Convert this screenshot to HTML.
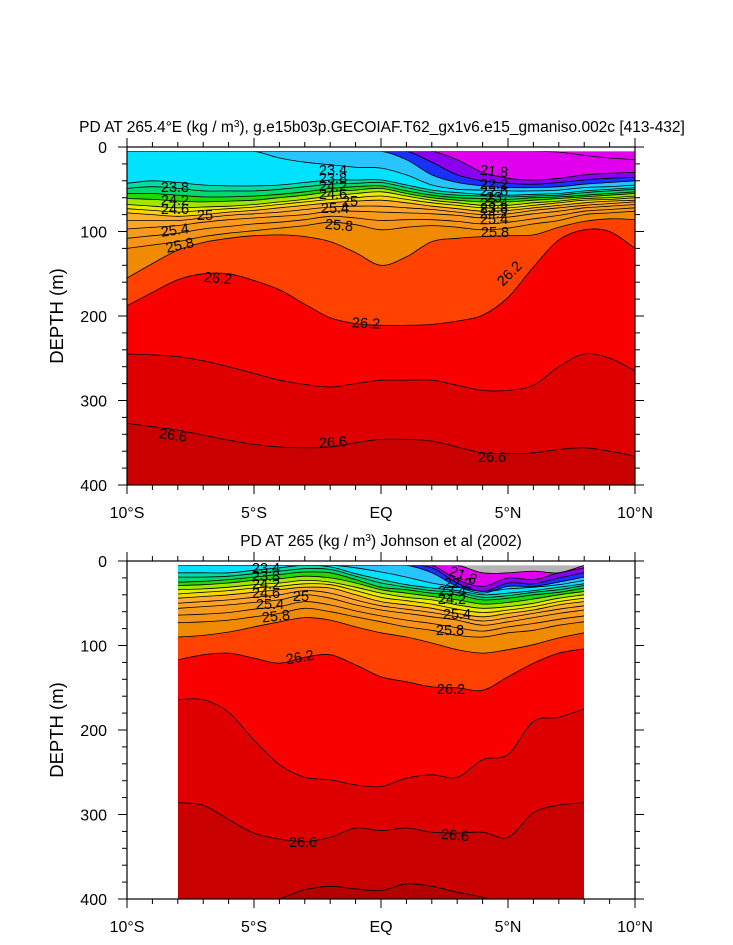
<!DOCTYPE html>
<html><head><meta charset="utf-8"><style>
body{margin:0;background:#fff}
svg{display:block;font-family:"Liberation Sans",Arial,sans-serif}
</style></head><body>
<svg id="chart" width="733" height="945" viewBox="0 0 733 945">
<defs>
<clipPath id="clipTop"><rect x="127" y="147" width="508" height="338"/></clipPath>
<clipPath id="clipBot"><rect x="178" y="561" width="406" height="338"/></clipPath>
</defs>
<g id="panelTop"></g>
<g id="panelBot"></g>
</svg>
<script>
// ---- data (depth in metres of each isopycnal, by longitude) ----
const topLons = [-10,-9,-8,-7,-6,-5,-4,-3,-2,-1,0,1,2,3,4,5,6,7,8,9,10];
const topLevels = [21.8,22.2,22.6,23.0,23.4,23.8,24.0,24.2,24.4,24.6,24.8,25.0,25.2,25.4,25.6,25.8,26.0,26.2,26.4,26.6];
const topD218 = [5,5,5,5,5,5,5,5,5,5,5,5,5,5,5,5,5,6,10,13,15];
const topD222 = [5,5,5,5,5,5,5,5,5,5,5,5,5,15,30,37,39,37,33,31,30];
const topD226 = [5,5,5,5,5,5,5,5,5,5,5,5,18,33,40,43,44,42,39,37,36];
const topD230 = [5,5,5,5,5,5,5,5,5,5,5,15,33,42,46,48,48,47,44,42,40];
const topD234 = [5,5,5,5,5,5,13,18,21,24,25,33,45,50,51,52,52,51,48,47,45];
const topD238 = [43,40,42,45,46,46,45,42,39,39,39,45,51,54,56,57,56,55,52,50,48];
const topD240 = [49,47,49,52,52,52,50,47,44,43,42,48,54,57,58,59,58,57,54,52,50];
const topD242 = [55,55,57,59,59,58,56,53,49,47,46,52,57,60,61,62,60,59,57,55,53];
const topD244 = [61,62,64,65,64,63,60,57,53,51,49,55,60,63,65,65,63,61,59,57,55];
const topD246 = [68,70,72,71,70,68,65,62,58,55,53,58,63,66,69,69,66,64,61,60,58];
const topD248 = [73,75,77,75,73,71,68,65,62,60,58,62,66,69,72,72,69,66,63,62,60];
const topD250 = [78,80,82,80,77,75,72,69,66,64,63,66,70,73,76,75,72,69,66,64,63];
const topD252 = [87,87,87,84,81,79,77,74,71,70,70,72,74,77,80,79,75,72,69,67,65];
const topD254 = [97,95,93,89,86,84,82,80,76,76,77,78,79,81,84,83,79,76,72,70,68];
const topD256 = [108,105,102,97,94,91,89,86,82,84,87,86,86,88,91,89,85,81,76,74,72];
const topD258 = [120,116,112,106,102,99,96,93,89,92,98,95,93,95,98,96,91,87,80,78,76];
const topD260 = [155,138,122,113,108,105,104,106,112,125,140,130,112,108,106,105,104,95,88,85,86];
const topD262 = [188,172,157,150,150,158,169,186,202,209,211,211,210,206,199,178,142,110,98,100,120];
const topD264 = [245,246,248,253,260,268,276,281,284,280,276,276,276,282,288,288,282,260,245,250,265];
const topD266 = [327,331,335,341,347,352,355,356,355,350,346,346,348,355,362,363,362,358,356,360,366];

const botLons = [-8,-7,-6,-5,-4,-3,-2,-1,0,1,2,3,4,5,6,7,8];
const botLevels = [21.8,22.2,22.6,23.0,23.4,23.8,24.0,24.2,24.4,24.6,24.8,25.0,25.2,25.4,25.6,25.8,26.0,26.2,26.4,26.6,26.8];
const botD218 = [5,5,5,5,5,5,5,5,5,5,5,5,14,14,12,14,5];
const botD222 = [5,5,5,5,5,5,5,5,5,5,5,22,30,20,22,14,8];
const botD226 = [5,5,5,5,5,5,5,5,5,5,8,26,36,26,27,20,14];
const botD230 = [5,5,5,5,5,5,5,5,5,5,14,30,38,30,30,25,19];
const botD234 = [5,5,5,5,5,5,5,8,13,19,26,31,36,33,31,28,23];
const botD238 = [14,14,14,11,8,5,7,15,22,28,32,35,40,38,35,31,27];
const botD240 = [19,19,18,15,12,9,10,18,26,31,35,37,43,41,37,34,29];
const botD242 = [25,24,22,19,16,13,14,22,31,34,38,40,46,44,40,37,32];
const botD244 = [29,28,26,23,21,18,20,26,34,38,42,46,51,49,45,40,36];
const botD246 = [34,33,31,28,26,23,25,31,38,43,46,52,56,54,50,44,40];
const botD248 = [39,37,35,32,30,27,28,35,43,47,51,57,61,58,54,48,44];
const botD250 = [44,42,40,37,34,31,32,40,48,52,56,62,66,62,58,52,48];
const botD252 = [50,48,46,43,40,35,38,46,53,57,61,66,71,67,62,57,53];
const botD254 = [56,54,52,49,46,40,44,52,58,62,66,70,76,72,67,62,58];
const botD256 = [64,63,61,57,54,48,52,59,65,70,74,79,83,78,74,69,65];
const botD258 = [73,72,70,66,62,56,60,66,72,78,82,88,90,85,82,76,72];
const botD260 = [90,88,84,78,72,67,70,78,85,90,97,105,109,105,99,91,85];
const botD262 = [117,111,109,115,121,114,111,123,137,143,149,150,153,137,121,109,104];
const botD264 = [164,164,179,212,241,256,259,265,267,257,253,256,235,229,190,185,175];
const botD266 = [286,289,306,322,329,332,327,316,319,316,321,322,321,327,298,289,286];
const botD268 = [420,420,420,410,400,389,385,388,390,382,385,392,398,410,420,420,420];

const xTickLabels = ["10°S","5°S","EQ","5°N","10°N"];
const xTickVals = [-10,-5,0,5,10];
const yTickVals = [0,100,200,300,400];

const fillColors = {
  "21.8":"#e000ee","22.2":"#8a00ee","22.6":"#1a30ff","23.0":"#28c4ff","23.4":"#00e2ff",
  "23.8":"#00dca8","24.0":"#00d870","24.2":"#22d800","24.4":"#a0e600","24.6":"#e6ee00","24.8":"#f8d800",
  "25.0":"#ffac30","25.2":"#ffa42a","25.4":"#f89a1e","25.6":"#f59418",
  "25.8":"#f08a00","26.0":"#ff4200","26.2":"#fa0000","26.4":"#de0000","26.6":"#c80000","26.8":"#b40000"
};

const NS="http://www.w3.org/2000/svg";
function mk(tag, attrs, parent){const e=document.createElementNS(NS,tag);for(const k in attrs)e.setAttribute(k,attrs[k]);if(parent)parent.appendChild(e);return e;}

function makeAxes(y0){
  const x=(lon)=>127+(lon+10)*25.4;
  const y=(d)=>y0+d*0.845;
  return {x,y};
}
function smooth(pts){
  let d="M"+pts[0][0].toFixed(1)+","+pts[0][1].toFixed(1);
  for(let i=0;i<pts.length-1;i++){
    const p0=pts[i-1]||pts[i],p1=pts[i],p2=pts[i+1],p3=pts[i+2]||pts[i+1];
    const c1=[p1[0]+(p2[0]-p0[0])/6,p1[1]+(p2[1]-p0[1])/6];
    const c2=[p2[0]-(p3[0]-p1[0])/6,p2[1]-(p3[1]-p1[1])/6];
    d+=` C${c1[0].toFixed(1)},${c1[1].toFixed(1)} ${c2[0].toFixed(1)},${c2[1].toFixed(1)} ${p2[0].toFixed(1)},${p2[1].toFixed(1)}`;
  }
  return d;
}

function drawPanel(g, y0, lons, levels, lines, baseColor, clipId, xmin, xmax){
  const ax=makeAxes(y0);
  const cg=mk("g",{"clip-path":`url(#${clipId})`},g);
  const base=mk("rect",{x:ax.x(xmin),y:ax.y(5),width:ax.x(xmax)-ax.x(xmin),height:ax.y(400)-ax.y(5),fill:baseColor},cg);
  
  
  const paths=[];
  levels.forEach((lev,i)=>{
    const pts=lons.map((L,j)=>[ax.x(L),ax.y(Math.max(5,lines[i][j]))]);
    const sp=smooth(pts);
    paths.push(sp);
    const f=mk("path",{d:sp+` L${ax.x(xmax)+5},${ax.y(430)} L${ax.x(xmin)-5},${ax.y(430)} Z`,fill:fillColors[lev.toFixed(1)]},cg);
    
    
  });
  levels.forEach((lev,i)=>{
    const l=mk("path",{d:paths[i],fill:"none",stroke:"#000","stroke-width":"0.8"},cg);
    
    
  });
  mk("rect",{x:127,y:y0,width:508,height:ax.y(5)-y0,fill:"#fff"},g);
  const fr=mk("rect",{x:127,y:y0,width:508,height:338,fill:"none",stroke:"#000","stroke-width":"1.2"},g);
  
  
  for(let L=-10;L<=10;L++){
    const major=L%5===0, len=major?9:5, X=ax.x(L);
    mk("line",{x1:X,x2:X,y1:y0,y2:y0-len,stroke:"#000","stroke-width":1},g);
    mk("line",{x1:X,x2:X,y1:y0+338,y2:y0+338+len,stroke:"#000","stroke-width":1},g);
  }
  for(let d=0;d<=400;d+=20){
    const major=d%100===0, len=major?9:5, Y=ax.y(d);
    mk("line",{x1:127,x2:127-len,y1:Y,y2:Y,stroke:"#000","stroke-width":1},g);
    mk("line",{x1:635,x2:635+len,y1:Y,y2:Y,stroke:"#000","stroke-width":1},g);
  }
  xTickVals.forEach((v,i)=>{
    const t=mk("text",{x:ax.x(v),y:y0+338+33,"text-anchor":"middle","font-size":"16"},g);
    t.textContent=xTickLabels[i];
    
    
  });
  yTickVals.forEach(v=>{
    const t=mk("text",{x:107,y:ax.y(v)+6,"text-anchor":"end","font-size":"16"},g);
    t.textContent=String(v);
    
    
  });
  const yt=mk("text",{x:63,y:y0+169,"text-anchor":"middle","font-size":"18.5",transform:`rotate(-90 63 ${y0+169})`},g);
  yt.textContent="DEPTH (m)";
  
  
}
function labels(g, list){
  list.forEach(([txt,x,y,rot])=>{
    const t=mk("text",{x:x,y:y,"text-anchor":"middle","font-size":"14.5",transform:`rotate(${rot||0} ${x} ${y-4})`},g);
    t.textContent=txt;
    
    
  });
}

const gT=document.getElementById("panelTop");
drawPanel(gT,147,topLons,topLevels,[topD218,topD222,topD226,topD230,topD234,topD238,topD240,topD242,topD244,topD246,topD248,topD250,topD252,topD254,topD256,topD258,topD260,topD262,topD264,topD266],"#e000ee","clipTop",-10,10);
labels(gT,[["23.8",175,192],["24.2",175,205],["24.6",175,214],["25",205,220],["25.4",175,235,-8],["25.8",180,250,-12],["26.2",218,283,5],
["23.4",333,175],["23.8",333,183],["24.2",333,191],["24.6",333,199],["25",350,206],["25.4",335,213],["25.8",339,230,5],
["21.8",494,176,5],["22.2",494,189],["22.6",494,196],["23",494,202],["23.4",494,208],["23.8",494,213],["24.2",494,218],["25.4",494,224],["25.8",495,237],
["26.2",366,328,3],["26.2",510,278,-45],["26.6",173,440,8],["26.6",333,447,-4],["26.6",492,462]]);

const gB=document.getElementById("panelBot");
drawPanel(gB,561,botLons,botLevels,[botD218,botD222,botD226,botD230,botD234,botD238,botD240,botD242,botD244,botD246,botD248,botD250,botD252,botD254,botD256,botD258,botD260,botD262,botD264,botD266,botD268],"#b4b4b4","clipBot",-8,8);
labels(gB,[["23.4",266,573],["23.8",266,581],["24.2",266,589],["24.6",266,598],["25",301,601],["25.4",270,609],["25.8",276,621,-6],
["21.8",463,580,20],["22.2",458,588],["23.4",452,596],["24.2",452,604],["25.4",457,619],["25.8",450,635],
["26.2",300,662,-10],["26.2",451,694],["26.6",303,847],["26.6",455,840,5]]);

const svg=document.getElementById("chart");
const t1=mk("text",{x:382,y:132,"text-anchor":"middle","font-size":"15.5"},svg);
t1.innerHTML='PD AT 265.4°E (kg / m<tspan dy="-5" font-size="10">3</tspan><tspan dy="5">), g.e15b03p.GECOIAF.T62_gx1v6.e15_gmaniso.002c [413-432]</tspan>';


const t2=mk("text",{x:381,y:546,"text-anchor":"middle","font-size":"15.5"},svg);
t2.innerHTML='PD AT 265 (kg / m<tspan dy="-5" font-size="10">3</tspan><tspan dy="5">) Johnson et al (2002)</tspan>';


</script>
</body></html>
